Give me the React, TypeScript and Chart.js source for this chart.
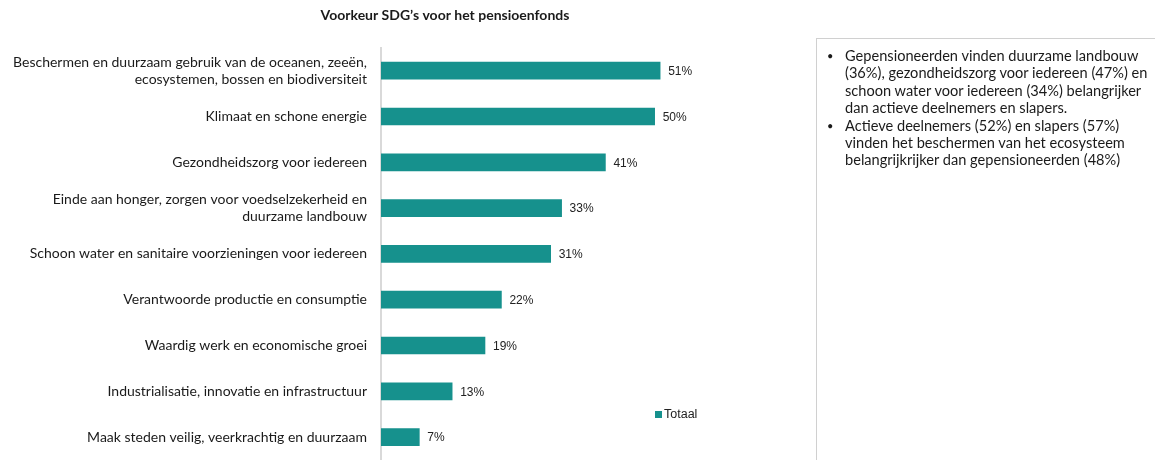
import React, { useEffect, useRef } from "react";
import { Chart, registerables } from "chart.js";

Chart.register(...registerables);

const categories: (string | string[])[] = [
  ["Beschermen en duurzaam gebruik van de oceanen, zeeën,", "ecosystemen, bossen en biodiversiteit"],
  "Klimaat en schone energie",
  "Gezondheidszorg voor iedereen",
  ["Einde aan honger, zorgen voor voedselzekerheid en", "duurzame landbouw"],
  "Schoon water en sanitaire voorzieningen voor iedereen",
  "Verantwoorde productie en consumptie",
  "Waardig werk en economische groei",
  "Industrialisatie, innovatie en infrastructuur",
  "Maak steden veilig, veerkrachtig en duurzaam",
];
const totaal = [51, 50, 41, 33, 31, 22, 19, 13, 7];
const seriesName = "Totaal";
const chartTitle = "Voorkeur SDG’s voor het pensioenfonds";
const xMax = 93;
const notes: string[][] = [
  [
    "Gepensioneerden vinden duurzame landbouw",
    "(36%), gezondheidszorg voor iedereen (47%) en",
    "schoon water voor iedereen (34%) belangrijker",
    "dan actieve deelnemers en slapers.",
  ],
  [
    "Actieve deelnemers (52%) en slapers (57%)",
    "vinden het beschermen van het ecosysteem",
    "belangrijkrijker dan gepensioneerden (48%)",
  ],
];

const BAR = "#16918d";

const valueLabels = {
  id: "valueLabels",
  afterDatasetsDraw(chart: any) {
    const ctx = chart.ctx;
    const meta = chart.getDatasetMeta(0);
    ctx.save();
    ctx.font = "12px 'Liberation Sans', Arial, sans-serif";
    ctx.fillStyle = "#222";
    ctx.textBaseline = "middle";
    ctx.textAlign = "left";
    meta.data.forEach((el: any, i: number) => {
      ctx.fillText(totaal[i] + "%", el.x + 8, el.y + 1);
    });
    ctx.restore();
  },
};

export default function App() {
  const ref = useRef<HTMLCanvasElement>(null);
  useEffect(() => {
    const chart = new Chart(ref.current!, {
      type: "bar",
      data: {
        labels: categories,
        datasets: [
          {
            label: seriesName,
            data: totaal,
            backgroundColor: BAR,
            barThickness: 17,
          },
        ],
      },
      options: {
        indexAxis: "y",
        animation: false,
        responsive: false,
        maintainAspectRatio: false,
        layout: { padding: 0 },
        plugins: {
          legend: { display: false },
          tooltip: { enabled: false },
          title: {
            display: true,
            text: chartTitle,
            color: "#1a1a1a",
            font: { family: "Lato, 'Open Sans', sans-serif", size: 14, weight: "bold" },
            padding: { top: 7, bottom: 24 },
          },
        },
        scales: {
          x: { display: false, min: 0, max: xMax },
          y: {
            grid: { display: false, drawTicks: false },
            border: { display: true, color: "#d9d9d9", width: 2 },
            ticks: {
              color: "#1a1a1a",
              padding: 14,
              font: { family: "Lato, 'Open Sans', sans-serif", size: 14 },
            },
            afterFit(scale: any) {
              scale.width = 381;
              scale.paddingTop = 0;
              scale.paddingBottom = 0;
            },
          },
        },
      },
      plugins: [valueLabels],
    });
    return () => chart.destroy();
  }, []);

  return (
    <div style={{ position: "absolute", left: 0, top: 0, width: 1155, height: 460, overflow: "hidden", background: "#fff" }}>
      <canvas ref={ref} width={890} height={460} style={{ position: "absolute", left: 0, top: 0 }} />
      <div
        style={{
          position: "absolute",
          left: 655,
          top: 407,
          display: "flex",
          alignItems: "center",
          font: "12.5px 'Liberation Sans', Arial, sans-serif",
          color: "#222",
        }}
      >
        <span style={{ display: "inline-block", width: 7, height: 7, background: BAR, marginRight: 2 }} />
        {seriesName}
      </div>
      <div
        style={{
          position: "absolute",
          left: 816,
          top: 38,
          width: 360,
          height: 440,
          border: "1px solid #d0d0d0",
          boxSizing: "border-box",
          padding: "8px 0 0 0",
          font: "14.6px Lato, 'Open Sans', sans-serif",
          lineHeight: "17.4px",
          color: "#1a1a1a",
        }}
      >
        {notes.map((lines, i) => (
          <div key={i} style={{ position: "relative", paddingLeft: 28, whiteSpace: "nowrap" }}>
            <span style={{ position: "absolute", left: 10, top: 0, fontSize: 11 }}>•</span>
            {lines.map((l, j) => (
              <div key={j}>{l}</div>
            ))}
          </div>
        ))}
      </div>
    </div>
  );
}
